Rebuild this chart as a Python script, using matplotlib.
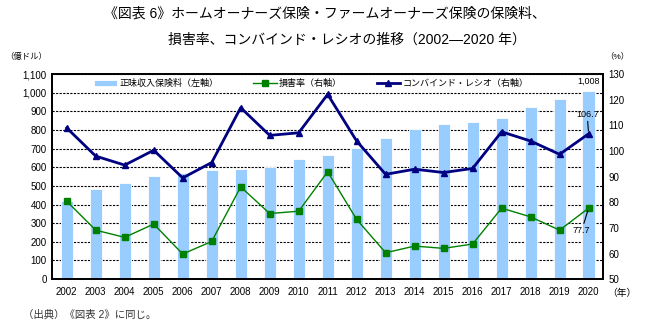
import matplotlib.pyplot as plt
from matplotlib.ticker import FuncFormatter

plt.rcParams['font.family'] = ['Liberation Sans', 'Noto Sans CJK JP', 'DejaVu Sans']

years = [str(y) for y in range(2002, 2021)]
premiums = [420, 481, 517, 553, 572, 585, 592, 602, 644, 665, 706, 755, 805, 831, 844, 862, 924, 964, 1008]
loss_ratio = [80.4, 69.1, 66.3, 71.5, 59.8, 64.7, 86.0, 75.6, 76.5, 91.9, 73.3, 60.3, 62.9, 62.0, 63.7, 77.7, 74.3, 69.1, 77.7]
combined_ratio = [109.0, 98.0, 94.5, 100.3, 89.5, 95.5, 116.9, 106.1, 107.1, 122.1, 103.9, 90.9, 92.9, 91.6, 93.2, 107.5, 103.9, 98.7, 106.7]

title1 = "《図表 6》ホームオーナーズ保険・ファームオーナーズ保険の保険料、"
title2 = "損害率、コンバインド・レシオの推移（2002―2020 年）"
labels = ["正味収入保険料（左軸）", "損害率（右軸）", "コンバインド・レシオ（右軸）"]

fig = plt.figure(figsize=(6.45, 3.28), dpi=100)
ax = fig.add_axes([0.081, 0.149, 0.854, 0.625])
ax2 = ax.twinx()

x = list(range(len(years)))
bars = ax.bar(x, premiums, width=0.42, color="#99CCFF", edgecolor="white", linewidth=0.6, zorder=2, label=labels[0])
ax.set_ylim(0, 1100)
ax.set_yticks(range(0, 1101, 100))
ax.yaxis.set_major_formatter(FuncFormatter(lambda v, p: f"{int(v):,}"))
ax.grid(axis="y", color="black", linestyle=(0, (2, 1.2)), linewidth=0.8, zorder=0)
ax.set_axisbelow(True)
ax.set_xlim(-0.5, len(years) - 0.5)
ax.set_xticks(x)
ax.set_xticklabels(years)

l1, = ax2.plot(x, loss_ratio, color="#008000", lw=1, marker="s", ms=5, label=labels[1], zorder=3)
l2, = ax2.plot(x, combined_ratio, color="#000080", lw=2, marker="^", ms=4.5, label=labels[2], zorder=4)
ax2.set_ylim(50, 130)
ax2.set_yticks(range(50, 131, 10))

for a in (ax, ax2):
    a.tick_params(length=0, labelsize=7, pad=4)
    for s in a.spines.values():
        s.set_linewidth(1.3)
        s.set_color("black")
ax.tick_params(axis="x", pad=6)

ax.legend([bars, l1, l2], labels, loc="upper left", bbox_to_anchor=(0.066, 1.0), ncol=3,
          frameon=False, fontsize=6.5, handlelength=2.6, columnspacing=3.8, handletextpad=0.3,
          borderaxespad=0.15)

# value labels for 2020
ax.annotate("1,008", (x[-1], premiums[-1]), xytext=(0, 4), textcoords="offset points",
            ha="center", va="bottom", fontsize=6.5)
ax2.annotate("106.7", (x[-1], combined_ratio[-1]), xytext=(-1, 11), textcoords="offset points",
             ha="center", va="bottom", fontsize=6.5,
             arrowprops=dict(arrowstyle="-", color="black", lw=0.8, shrinkA=0, shrinkB=2))
ax2.annotate("77.7", (x[-1], loss_ratio[-1]), xytext=(-5, -13), textcoords="offset points",
             ha="center", va="top", fontsize=6.5,
             arrowprops=dict(arrowstyle="-", color="black", lw=0.8, shrinkA=0, shrinkB=2))

fig.text(0.504, 0.958, title1, ha="center", va="center", fontsize=10)
fig.text(0.538, 0.878, title2, ha="center", va="center", fontsize=10)
fig.text(0.008, 0.828, "（億ドル）", fontsize=6, ha="left", va="center")
fig.text(0.938, 0.828, "（%）", fontsize=6, ha="left", va="center")
fig.text(0.942, 0.108, "（年）", fontsize=7, ha="left", va="center")
fig.text(0.035, 0.04, "（出典）《図表 2》に同じ。", fontsize=7.5, ha="left", va="center", color="#333333")

fig.savefig("out.png", dpi=100)
